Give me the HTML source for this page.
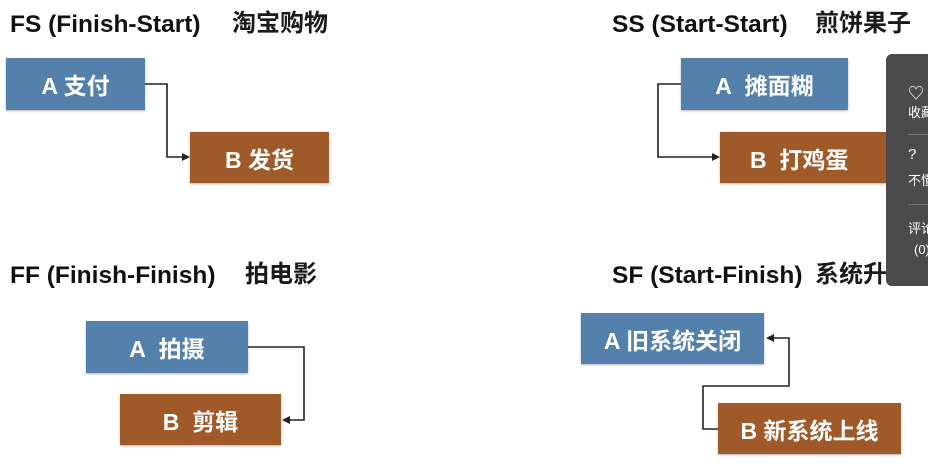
<!DOCTYPE html>
<html><head><meta charset="utf-8"><style>
body{margin:0;width:928px;height:466px;background:#fff;position:relative;overflow:hidden;font-family:"Liberation Sans","Noto Sans CJK SC",sans-serif}
.t{position:absolute;font-weight:bold;font-size:24.5px;color:#111;white-space:nowrap;line-height:28px}
.k{font-size:24px;font-weight:bold;color:#1a1a1a}
.b{position:absolute;color:#fff;font-weight:bold;font-size:23px;display:flex;align-items:center;justify-content:center;box-shadow:0 1px 2px rgba(0,0,0,.3)}
.a{background:#5381ab}.c{background:#a05a29}
.p{position:absolute;left:886px;top:54px;width:50px;height:232px;background:#4b4b4b;border-radius:6px 0 0 6px;color:#fff;font-size:13px;z-index:5}
.p div{position:absolute;left:22px;white-space:nowrap}
.hr{position:absolute;left:22px;width:30px;height:1px;background:#777}
</style></head><body>
<div class="t" style="left:10px;top:11px">FS (Finish-Start)</div>
<div class="t k" style="left:232px;top:10px">淘宝购物</div>
<div class="t" style="left:612px;top:11px">SS (Start-Start)</div>
<div class="t k" style="left:815px;top:10px">煎饼果子</div>
<div class="t" style="left:10px;top:262px">FF (Finish-Finish)</div>
<div class="t k" style="left:245px;top:261px">拍电影</div>
<div class="t" style="left:612px;top:262px">SF (Start-Finish)</div>
<div class="t k" style="left:815px;top:261px">系统升级</div>

<div class="b a" style="left:6px;top:58px;width:139px;height:52px">A 支付</div>
<div class="b c" style="left:190px;top:132px;width:139px;height:51px">B 发货</div>
<div class="b a" style="left:681px;top:58px;width:167px;height:52px">A&nbsp; 摊面糊</div>
<div class="b c" style="left:720px;top:132px;width:180px;height:51px;justify-content:flex-start;padding-left:30px;box-sizing:border-box">B&nbsp; 打鸡蛋</div>
<div class="b a" style="left:86px;top:321px;width:162px;height:52px">A&nbsp; 拍摄</div>
<div class="b c" style="left:120px;top:394px;width:161px;height:51px">B&nbsp; 剪辑</div>
<div class="b a" style="left:581px;top:313px;width:183px;height:51px">A 旧系统关闭</div>
<div class="b c" style="left:718px;top:403px;width:183px;height:51px">B 新系统上线</div>

<svg width="928" height="466" style="position:absolute;left:0;top:0">
<g fill="none" stroke="#222" stroke-width="1.6">
<polyline points="145,84 167,84 167,157 184,157"/>
<polyline points="681,84 658,84 658,157 714,157"/>
<polyline points="248,347 304,347 304,420 288,420"/>
<polyline points="718,429 703,429 703,386 789,386 789,338 772,338"/>
</g>
<g fill="#222">
<polygon points="190,157 182,153 182,161"/>
<polygon points="720,157 712,153 712,161"/>
<polygon points="282,420 290,416 290,424"/>
<polygon points="766,338 774,334 774,342"/>
</g>
</svg>

<div class="p">
<div style="top:26px;font-size:16px">♡</div>
<div style="top:48px">收藏</div>
<div class="hr" style="top:80px"></div>
<div style="top:92px;font-size:15px">?</div>
<div style="top:116px">不懂</div>
<div class="hr" style="top:150px"></div>
<div style="top:164px">评论</div>
<div style="top:188px;left:28px">(0)</div>
</div>
</body></html>
